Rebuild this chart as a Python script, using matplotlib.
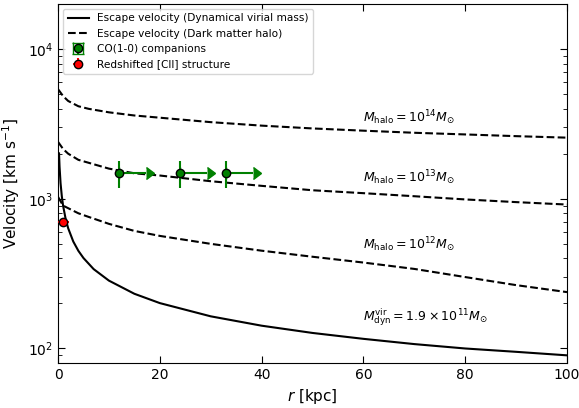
import numpy as np
import matplotlib
matplotlib.use('Agg')
import matplotlib.pyplot as plt

# escape velocity curves (r in kpc, v in km/s)
r_dyn = [0.2, 0.3, 0.5, 0.75, 1, 1.5, 2, 3, 4, 5, 7, 10, 15, 20, 30, 40, 50, 60, 70, 80, 90, 100]
v_dyn = [2010, 1640, 1270, 1037, 898, 733, 635, 518, 449, 402, 339, 284, 232, 201, 164, 142, 127, 116, 107, 100, 95, 90]

r_halo = [0, 1, 2, 4, 6, 10, 15, 20, 30, 40, 50, 60, 70, 80, 90, 100]
v_halo14 = [5400, 4850, 4500, 4150, 3990, 3780, 3600, 3480, 3250, 3080, 2950, 2850, 2760, 2690, 2620, 2560]
v_halo13 = [2400, 2150, 2000, 1820, 1740, 1590, 1480, 1430, 1310, 1220, 1140, 1090, 1040, 990, 950, 915]
v_halo12 = [1030, 900, 865, 800, 757, 680, 610, 565, 500, 450, 410, 375, 340, 300, 265, 238]

# CO(1-0) companions (lower limits in r)
r_co = [12, 24, 33]
v_co = [1480, 1480, 1480]
v_co_err = [300, 300, 300]
r_co_arrow = [5.3, 5.3, 5.3]

# redshifted [CII] structure
r_cii = [1.0]
v_cii = [695]
r_cii_err = [1.2]
v_cii_err = [25]

labels_halo = [r'$M_{\rm halo}=10^{14}M_{\odot}$', r'$M_{\rm halo}=10^{13}M_{\odot}$',
               r'$M_{\rm halo}=10^{12}M_{\odot}$', r'$M_{\rm dyn}^{\rm vir}=1.9\times10^{11}M_{\odot}$']
label_v = [3475, 1390, 491, 161]

fig = plt.figure(figsize=(5.79, 4.08), dpi=100)
ax = fig.add_axes([0.1002, 0.1103, 0.8791, 0.8799])

ax.plot(r_dyn, v_dyn, 'k-', lw=1.5, label='Escape velocity (Dynamical virial mass)')
ax.plot(r_halo, v_halo14, 'k--', lw=1.5, label='Escape velocity (Dark matter halo)')
ax.plot(r_halo, v_halo13, 'k--', lw=1.5)
ax.plot(r_halo, v_halo12, 'k--', lw=1.5)

eb = ax.errorbar(r_co, v_co, xerr=r_co_arrow, yerr=v_co_err, xlolims=True, fmt='o',
                 color='green', ecolor='green', mfc='green', mec='k', ms=6,
                 elinewidth=1.5, capsize=4, label='CO(1-0) companions', zorder=5)
# hide the y caps in the plot, keep the arrow heads
for cap in eb[1]:
    if cap.get_marker() == '_':
        cap.set_visible(False)
ax.errorbar(r_cii, v_cii, xerr=r_cii_err, yerr=v_cii_err, fmt='o', color='red', mfc='red', mec='k',
            ms=6, elinewidth=1.5, capsize=0, label='Redshifted [CII] structure', zorder=5)

for lab, v in zip(labels_halo, label_v):
    ax.text(60, v, lab, fontsize=9, ha='left', va='center')

ax.set_yscale('log')
ax.set_xlim(0, 100)
ax.set_ylim(80, 2e4)
ax.set_xlabel(r'$r$ [kpc]', fontsize=11)
ax.set_ylabel(r'Velocity [km s$^{-1}$]', fontsize=11)
ax.tick_params(which='both', direction='in', top=True, right=True)
ax.tick_params(which='major', length=5, labelsize=10)
ax.tick_params(which='minor', length=3)
ax.legend(loc='upper left', fontsize=7.6)

fig.savefig('out.png', dpi=100)
